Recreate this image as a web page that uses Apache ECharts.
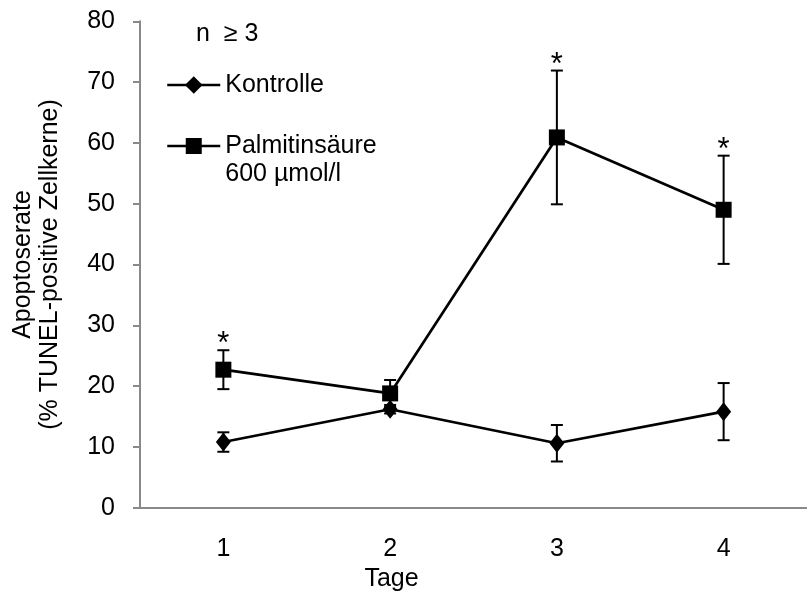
<!DOCTYPE html>
<html>
<head>
<meta charset="utf-8">
<script src="https://cdn.jsdelivr.net/npm/echarts@6/dist/echarts.min.js"></script>
<style>html,body{margin:0;padding:0;background:#fff}#c{width:807px;height:597px}</style>
</head>
<body>
<div id="c"></div>
<script>
const days = ['1', '2', '3', '4'];
const kontrolle = [10.8, 16.2, 10.6, 15.8];
const kontrolleErr = [1.6, 0.7, 3.0, 4.7];
const palmitin = [22.7, 18.8, 60.9, 49.0];
const palmitinErr = [3.2, 2.2, 11.0, 8.9];
const palmitinSig = [true, false, true, true];
const kontrolleSig = [false, false, false, false];
const yMin = 0, yMax = 80, yStep = 10;
const nameK = 'Kontrolle';
const nameP = 'Palmitinsäure 600 µmol/l';
const noteText = 'n  \u2265 3';
const yName = 'Apoptoserate\n(% TUNEL-positive Zellkerne)';
const xName = 'Tage';

const FONT = '"Liberation Sans", Arial, sans-serif';
const AXIS = '#898989';

function errData(vals, errs, sig) {
  return vals.map((v, i) => [i, v - errs[i], v + errs[i], sig[i] ? 1 : 0]);
}
function renderErr(params, api) {
  const x = api.value(0);
  const lo = api.coord([x, api.value(1)]);
  const hi = api.coord([x, api.value(2)]);
  const cap = 6;
  const style = { stroke: '#000', lineWidth: 2 };
  const children = [
    { type: 'line', shape: { x1: lo[0], y1: lo[1], x2: hi[0], y2: hi[1] }, style },
    { type: 'line', shape: { x1: lo[0] - cap, y1: lo[1], x2: lo[0] + cap, y2: lo[1] }, style },
    { type: 'line', shape: { x1: hi[0] - cap, y1: hi[1], x2: hi[0] + cap, y2: hi[1] }, style }
  ];
  if (api.value(3)) {
    children.push({ type: 'text', style: { text: '*', x: hi[0], y: hi[1] + 10, align: 'center', verticalAlign: 'bottom', fontSize: 31, fontFamily: FONT, fill: '#000' } });
  }
  return { type: 'group', children };
}

const chart = echarts.init(document.getElementById('c'), null, { renderer: 'canvas' });
chart.setOption({
  animation: false,
  backgroundColor: '#fff',
  textStyle: { fontFamily: FONT },
  title: { text: noteText, left: 196, top: 22, padding: 0, textStyle: { fontSize: 25, fontWeight: 'normal', color: '#000', fontFamily: FONT } },
  legend: [
    { data: [nameK], left: 166, top: 71, padding: 0, itemWidth: 53, itemHeight: 22, itemGap: 0,
      lineStyle: { width: 2.5, color: '#000' },
      textStyle: { fontSize: 25, color: '#000', fontFamily: FONT, lineHeight: 28 } },
    { data: [nameP], left: 166, top: 104, padding: 0, itemWidth: 53, itemHeight: 20, itemGap: 0,
      lineStyle: { width: 2.5, color: '#000' },
      formatter: n => ' \n' + n.replace(' 600', '\n600'),
      textStyle: { fontSize: 25, color: '#000', fontFamily: FONT, lineHeight: 28 } }
  ],
  grid: { left: 140, top: 21.3, bottom: 89.3, right: -7.4, containLabel: false },
  xAxis: {
    type: 'category', data: days, boundaryGap: true,
    name: xName, nameLocation: 'middle', nameGap: 58,
    nameTextStyle: { fontSize: 25, color: '#000', fontFamily: FONT, padding: [0, 164, 0, 0] },
    axisLine: { lineStyle: { color: AXIS, width: 2 } },
    axisTick: { show: false },
    axisLabel: { fontSize: 25, color: '#000', margin: 29, fontFamily: FONT },
    splitLine: { show: false }
  },
  yAxis: {
    type: 'value', min: yMin, max: yMax, interval: yStep,
    name: yName, nameLocation: 'middle', nameRotate: 90, nameGap: 76,
    nameTextStyle: { fontSize: 25, color: '#000', fontFamily: FONT, lineHeight: 27 },
    axisLine: { show: true, lineStyle: { color: AXIS, width: 2 } },
    axisTick: { show: true, length: 7, lineStyle: { color: AXIS, width: 2 } },
    axisLabel: { fontSize: 25, color: '#000', margin: 25, fontFamily: FONT },
    splitLine: { show: false }
  },
  series: [
    { name: nameK, type: 'line', data: kontrolle, symbol: 'diamond', symbolSize: [15, 19],
      lineStyle: { color: '#000', width: 2.7 }, itemStyle: { color: '#000' }, z: 3 },
    { name: nameP, type: 'line', data: palmitin, symbol: 'rect', symbolSize: 16,
      lineStyle: { color: '#000', width: 2.7 }, itemStyle: { color: '#000' }, z: 3 },
    { type: 'custom', renderItem: renderErr, data: errData(kontrolle, kontrolleErr, kontrolleSig), z: 4, silent: true },
    { type: 'custom', renderItem: renderErr, data: errData(palmitin, palmitinErr, palmitinSig), z: 4, silent: true }
  ]
});
</script>
</body>
</html>
